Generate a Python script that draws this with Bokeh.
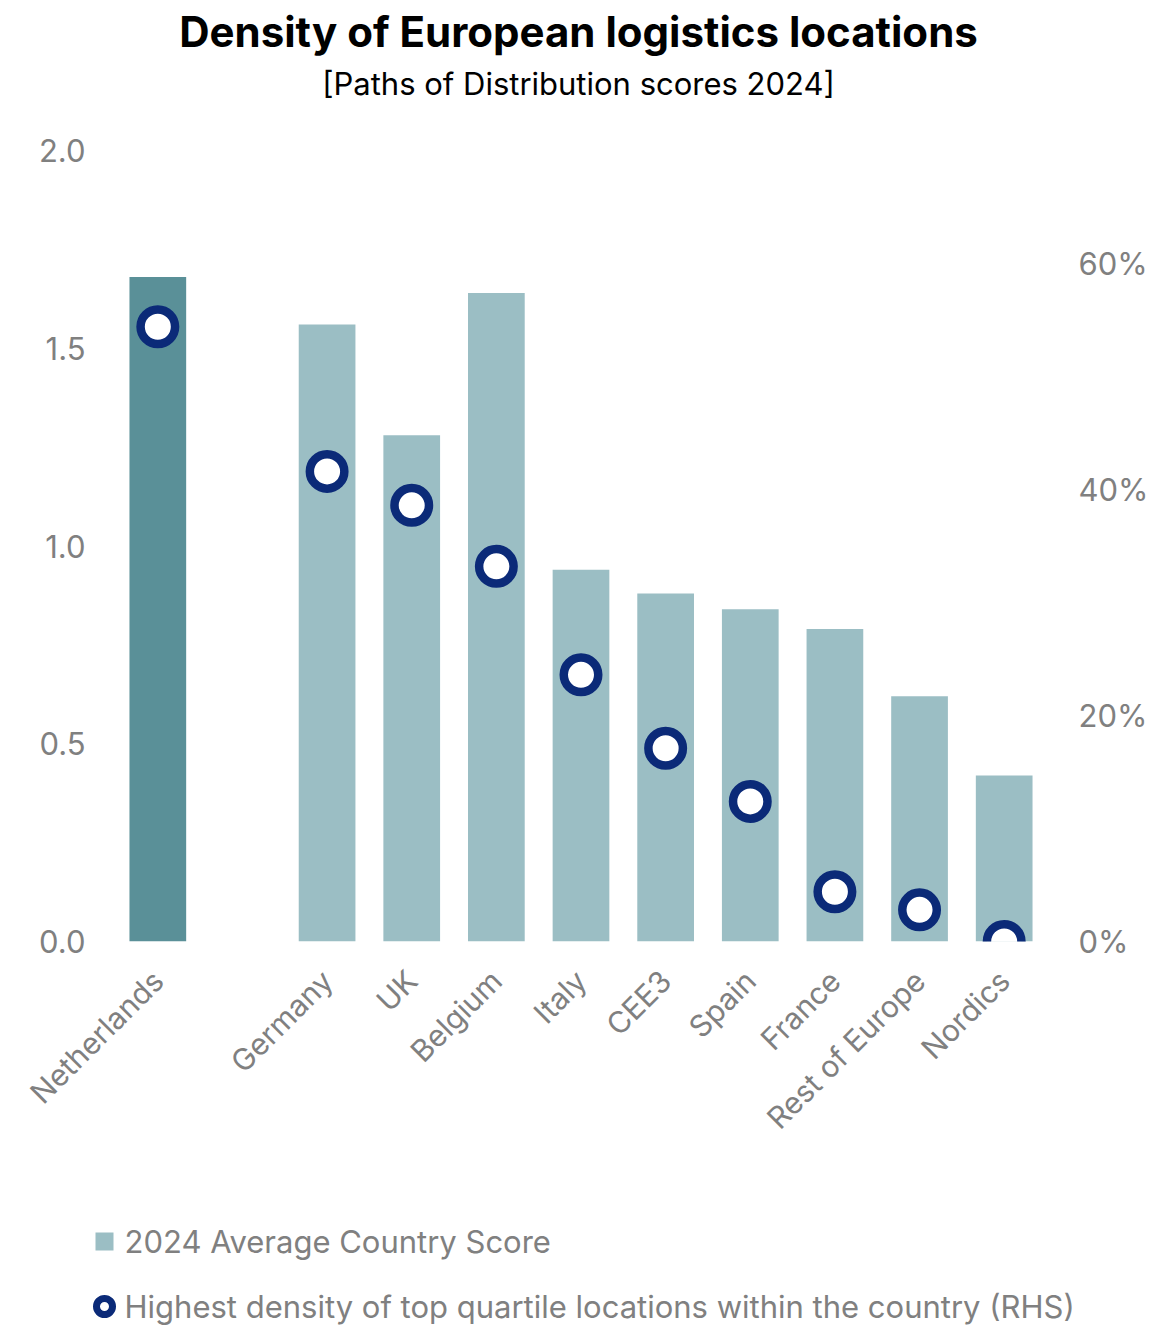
import math
from bokeh.plotting import figure
from bokeh.layouts import column, row
from bokeh.models import (FactorRange, Range1d, LinearAxis, FixedTicker, PrintfTickFormatter)
from bokeh.core.properties import value
from bokeh.embed import file_html
from bokeh.resources import INLINE

# ---------------- data ----------------
categories = ["Netherlands", "Germany", "UK", "Belgium", "Italy", "CEE3", "Spain",
              "France", "Rest of Europe", "Nordics"]
avg_score = [1.68, 1.56, 1.28, 1.64, 0.94, 0.88, 0.84, 0.79, 0.62, 0.42]
top_quartile_pct = [54.4, 41.6, 38.6, 33.2, 23.6, 17.1, 12.4, 4.4, 2.8, 0.0]
highlight = "Netherlands"
left_ticks = [0.0, 0.5, 1.0, 1.5, 2.0]
right_ticks = [0, 20, 40, 60]
title_text = "Density of European logistics locations"
subtitle_text = "[Paths of Distribution scores 2024]"
legend_labels = ["2024 Average Country Score",
                 "Highest density of top quartile locations within the country (RHS)"]

FONT = "Inter"
GREY = "#808080"
DARK = "#5a9098"
LIGHT = "#9bbec4"
NAVY = "#0b2a78"
W = 1165


def blank(height, y0, y1):
    f = figure(width=W, height=height, x_range=Range1d(0, W), y_range=Range1d(y1, y0),
               output_backend="svg", toolbar_location=None, x_axis_type=None, y_axis_type=None,
               min_border=0, min_border_left=0, min_border_right=0, min_border_top=0,
               min_border_bottom=0)
    f.outline_line_color = None
    f.xgrid.grid_line_color = None
    f.ygrid.grid_line_color = None
    return f


# ---------------- title block ----------------
t = blank(110, 0, 110)
t.text(x=[578], y=[31], text=[title_text], text_align="center", text_baseline="middle",
       text_font=value(FONT), text_font_style="bold", text_font_size="42px", text_color="black")
t.text(x=[578], y=[83], text=[subtitle_text], text_align="center", text_baseline="middle",
       text_font=value(FONT), text_font_size="31px", text_color="black")

# ---------------- main chart ----------------
factors = [categories[0], " "] + categories[1:]
colors = [DARK if c == highlight else LIGHT for c in categories]

p = figure(width=W, height=1090, x_range=FactorRange(*factors, range_padding=0),
           y_range=Range1d(0, 2.0), output_backend="svg", toolbar_location=None,
           min_border_left=115, min_border_right=119, min_border_top=40, min_border_bottom=259)
p.extra_y_ranges = {"pct": Range1d(0, 70)}
p.outline_line_color = None
p.xgrid.grid_line_color = None
p.ygrid.grid_line_color = None

p.vbar(x=categories, top=avg_score, width=0.67, fill_color=colors, line_color=None)
p.scatter(x=categories, y=top_quartile_pct, y_range_name="pct", marker="circle", size=34.5,
          fill_color="white", line_color=NAVY, line_width=8.5)

ya = p.yaxis[0]
ya.ticker = FixedTicker(ticks=left_ticks)
ya.formatter = PrintfTickFormatter(format="%.1f")
ra = LinearAxis(y_range_name="pct", ticker=FixedTicker(ticks=right_ticks),
                formatter=PrintfTickFormatter(format="%d%%"))
p.add_layout(ra, "right")
xa = p.xaxis[0]

for ax in [ya, ra, xa]:
    ax.axis_line_color = None
    ax.major_tick_line_color = None
    ax.minor_tick_line_color = None
    ax.major_tick_out = 0
    ax.major_tick_in = 0
    ax.minor_tick_out = 0
    ax.major_label_text_font = FONT
    ax.major_label_text_color = GREY
    ax.major_label_text_font_size = "31px"
ya.major_label_standoff = 30
ra.major_label_standoff = 32
xa.major_label_orientation = math.pi / 4
xa.major_label_standoff = 34
xa.major_label_text_font_size = "30px"

# ---------------- legend block ----------------
lg = blank(127, 1200, 1327)
lg.scatter(x=[104], y=[1241], marker="square", size=18, fill_color=LIGHT, line_color=None)
lg.scatter(x=[104], y=[1306], marker="circle", size=16, fill_color="white", line_color=NAVY,
           line_width=7)
lg.text(x=[124, 124], y=[1241, 1306], text=legend_labels, text_align="left",
        text_baseline="middle", text_font=value(FONT), text_font_size="31px", text_color=GREY)

layout = column(row(t), row(p), row(lg), spacing=0)
open("out.html", "w").write(file_html(layout, INLINE))
